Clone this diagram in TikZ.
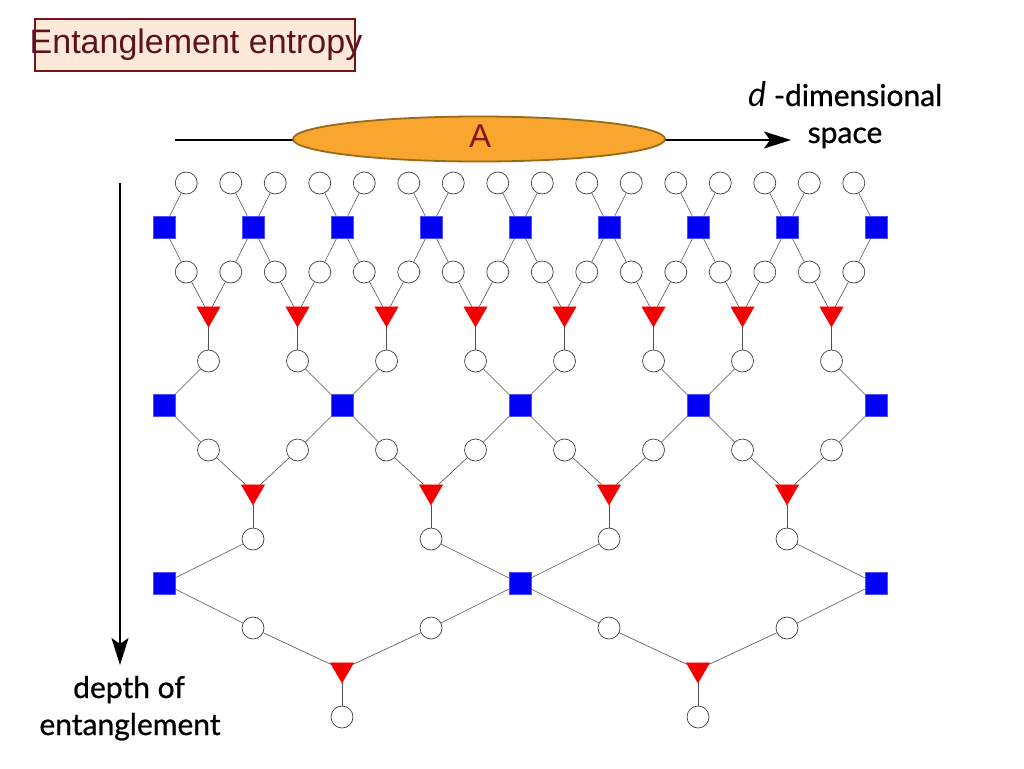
\documentclass[tikz,border=0pt]{standalone}
\usepackage{fontspec}
\setmainfont{Liberation Sans}
\newfontfamily\gill[FakeBold=0.8]{Lato}
\newfontfamily\gillit{Lato}
\usetikzlibrary{shapes.geometric,arrows.meta}
\definecolor{boxfill}{HTML}{FDE9D8}
\definecolor{boxline}{HTML}{7A1414}
\definecolor{titletext}{HTML}{5E1221}
\definecolor{ellfill}{HTML}{F9A630}
\definecolor{ellline}{HTML}{9A6A1C}
\definecolor{Ared}{HTML}{8B1515}
\definecolor{sqblue}{HTML}{0000F5}
\definecolor{trired}{HTML}{F50000}
\definecolor{wirecol}{HTML}{505050}
\begin{document}
\begin{tikzpicture}[x=1pt,y=-1pt,
  circ/.style={circle,draw=black!75,line width=0.7pt,minimum size=22pt,inner sep=0pt,fill=white},
  sq/.style={rectangle,draw=blue!70!white,line width=0.5pt,fill=sqblue,minimum size=22pt,inner sep=0pt},
  tri/.style={regular polygon,regular polygon sides=3,shape border rotate=180,fill=trired,draw=trired,line width=0.4pt,minimum size=27pt,inner sep=0pt},
  wire/.style={draw=wirecol,line width=0.6pt},
  bigarrow/.style={line width=1.8pt,-{Stealth[length=27pt,width=17pt,inset=6pt]}},
  gilltext/.style={font=\gill\fontsize{30}{36}\selectfont,text=black,inner sep=0pt}]
\useasboundingbox (0,0) rectangle (1024,768);
\fill[white] (0,0) rectangle (1024,768);
% title
\node[draw=boxline,line width=2pt,fill=boxfill,minimum width=320pt,minimum height=51pt,inner sep=0pt] (titlebox) at (195,45) {};
\node[anchor=base,text=titletext,font=\fontsize{34}{40}\selectfont,inner sep=0pt] (title) at (196,53) {Entanglement entropy};
% horizontal axis
\coordinate (hs) at (175,140);
\coordinate (he) at (791,140);
\draw[bigarrow] (hs) -- (he);
\node[ellipse,draw=ellline,line width=1.8pt,fill=ellfill,minimum width=372pt,minimum height=45pt,inner sep=0pt] (regionA) at (479,139) {};
\node[anchor=base,text=Ared,font=\fontsize{33}{40}\selectfont,inner sep=0pt] (labA) at (480,147) {A};
\node[gilltext,anchor=base west] (dim) at (748,106) {{\gillit\fontsize{34}{36}\selectfont\itshape d} -dimensional};
\node[gilltext,anchor=base] (space) at (845,143) {space};
% vertical axis
\coordinate (vs) at (120,183);
\coordinate (ve) at (120,665);
\draw[bigarrow] (vs) -- (ve);
\node[gilltext,anchor=base] (depth) at (129,698) {depth of};
\node[gilltext,anchor=base] (ent) at (130,735) {entanglement};
% network nodes
\foreach \i in {0,...,15} {
  \node[circ] (a\i) at ({164+22.25*(2*\i+1)},183) {};
  \node[circ] (c\i) at ({164+22.25*(2*\i+1)},272) {};
}
\foreach \j in {0,...,8} \node[sq] (b\j) at ({164+89*\j},227.5) {};
\foreach \j in {0,...,7} {
  \node[tri] (d\j) at ({164+22.25*(4*\j+2)},313.5) {};
  \node[circ] (e\j) at ({164+22.25*(4*\j+2)},361) {};
  \node[circ] (g\j) at ({164+22.25*(4*\j+2)},450) {};
}
\foreach \j in {0,...,4} \node[sq] (f\j) at ({164+178*\j},405.5) {};
\foreach \j in {0,...,3} {
  \node[tri] (h\j) at ({164+22.25*(8*\j+4)},491.5) {};
  \node[circ] (i\j) at ({164+22.25*(8*\j+4)},539) {};
  \node[circ] (k\j) at ({164+22.25*(8*\j+4)},628) {};
}
\foreach \j in {0,...,2} \node[sq] (q\j) at ({164+356*\j},583.5) {};
\foreach \j in {0,1} {
  \node[tri] (l\j) at ({164+22.25*(16*\j+8)},669.5) {};
  \node[circ] (m\j) at ({164+22.25*(16*\j+8)},717) {};
}
% wires
\foreach \i in {0,...,15} {
  \pgfmathtruncatemacro\s{(\i+1)/2}
  \draw[wire] (a\i) -- (b\s);
  \draw[wire] (b\s) -- (c\i);
}
\foreach \j in {0,...,7} {
  \pgfmathtruncatemacro\p{2*\j}
  \pgfmathtruncatemacro\r{2*\j+1}
  \pgfmathtruncatemacro\s{(\j+1)/2}
  \draw[wire] (c\p) -- (d\j);
  \draw[wire] (c\r) -- (d\j);
  \draw[wire] (d\j) -- (e\j);
  \draw[wire] (e\j) -- (f\s);
  \draw[wire] (f\s) -- (g\j);
}
\foreach \j in {0,...,3} {
  \pgfmathtruncatemacro\p{2*\j}
  \pgfmathtruncatemacro\r{2*\j+1}
  \pgfmathtruncatemacro\s{(\j+1)/2}
  \draw[wire] (g\p) -- (h\j);
  \draw[wire] (g\r) -- (h\j);
  \draw[wire] (h\j) -- (i\j);
  \draw[wire] (i\j) -- (q\s);
  \draw[wire] (q\s) -- (k\j);
}
\foreach \j in {0,1} {
  \pgfmathtruncatemacro\p{2*\j}
  \pgfmathtruncatemacro\r{2*\j+1}
  \draw[wire] (k\p) -- (l\j);
  \draw[wire] (k\r) -- (l\j);
  \draw[wire] (l\j) -- (m\j);
}
\end{tikzpicture}
\end{document}
